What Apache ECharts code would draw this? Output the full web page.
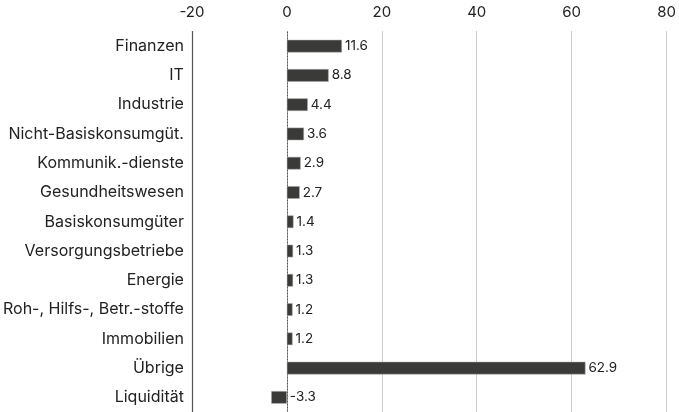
<!DOCTYPE html>
<html><head><meta charset="utf-8">
<script src="https://cdn.jsdelivr.net/npm/echarts@6/dist/echarts.min.js"></script>
<style>html,body{margin:0;padding:0;background:#fff}#c{width:679px;height:412px}</style>
</head><body><div id="c"></div>
<script>
const categories = ["Finanzen","IT","Industrie","Nicht-Basiskonsumgüt.","Kommunik.-dienste","Gesundheitswesen","Basiskonsumgüter","Versorgungsbetriebe","Energie","Roh-, Hilfs-, Betr.-stoffe","Immobilien","Übrige","Liquidität"];
const values = [11.6,8.8,4.4,3.6,2.9,2.7,1.4,1.3,1.3,1.2,1.2,62.9,-3.3];
const ticks = [-20,0,20,40,60,80];
const chart = echarts.init(document.getElementById('c'));
chart.setOption({
  animation:false,
  textStyle:{fontFamily:'Inter'},
  grid:{left:189.5,top:31.5,width:480,height:384,containLabel:false},
  xAxis:{type:'value',position:'top',min:ticks[0],max:ticks[ticks.length-1],interval:20,
    axisLine:{show:false},axisTick:{show:false},
    axisLabel:{color:'#222',fontSize:15,margin:12,fontFamily:'Inter'},
    splitLine:{show:true,lineStyle:{type:[1,1],color:'#9a9a9a',width:1}}},
  yAxis:{type:'category',data:categories,inverse:true,z:5,
    axisLine:{show:true,onZero:false,lineStyle:{color:'#555',width:1.2}},axisTick:{show:false},
    axisLabel:{color:'#222',fontSize:16,margin:8,fontFamily:'Inter'}},
  series:[{type:'bar',data:values,barWidth:'43%',z:3,
    itemStyle:{color:'#3a3b39',borderColor:'#aaa',borderWidth:0.5},
    label:{show:true,position:'right',distance:3,color:'#222',fontSize:13.5,fontFamily:'Inter'},
    markLine:{silent:true,symbol:'none',label:{show:false},z:1,
      lineStyle:{type:[2,1],color:'#555',width:1},
      data:[{xAxis:0}]}}]
});
</script></body></html>
